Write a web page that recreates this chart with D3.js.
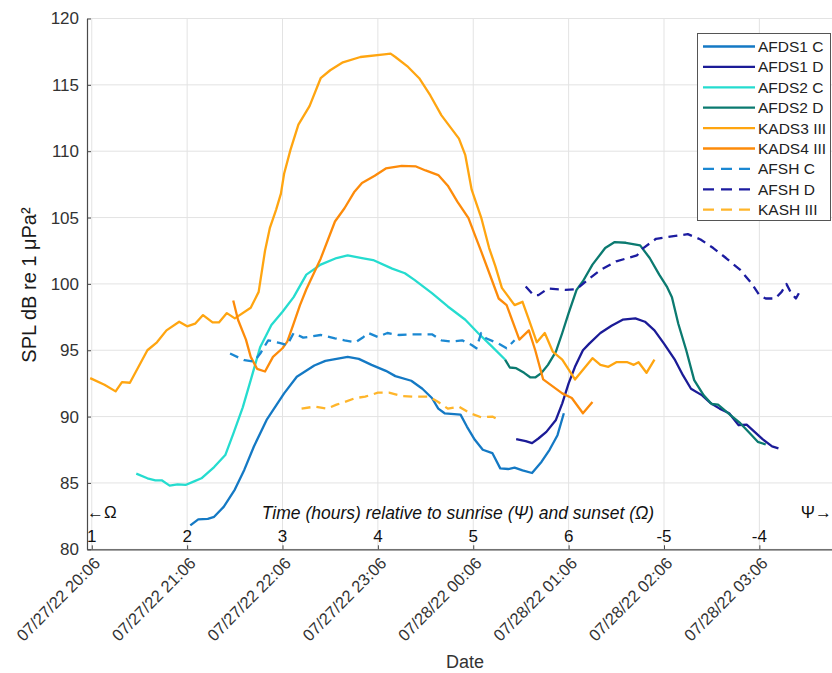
<!DOCTYPE html>
<html>
<head>
<meta charset="utf-8">
<script src="https://cdn.jsdelivr.net/npm/d3@7"></script>
<style>
  html, body { margin: 0; padding: 0; background: #fff; }
  svg { display: block; font-family: "Liberation Sans", Arial, Helvetica, sans-serif; }
</style>
</head>
<body>
<svg id="chart" width="832" height="673"></svg>
<script>
// ---- data: [minutes after 07/27/22 20:06, SPL dB] ----
const afds1C = [[62,81.8],[67,82.25],[73,82.3],[77,82.45],[83,83.2],[90,84.5],[96,86.0],[102,87.75],[110,89.75],[121,91.75],[129,93.0],[140,93.85],[147,94.2],[154,94.35],[161,94.5],[168,94.35],[176,93.9],[185,93.45],[191,93.05],[201,92.7],[208,92.1],[214,91.4],[218,90.6],[222,90.25],[232,90.15],[236,89.25],[241,88.25],[246,87.5],[252,87.25],[257,86.1],[262,86.05],[266,86.15],[271,85.95],[277,85.75],[283,86.6],[288,87.5],[293,88.6],[297,90.25]];
const afds1D = [[267,88.3],[273,88.15],[277,88.0],[281,88.35],[286,88.85],[292,89.75],[296,91.0],[300,92.5],[304,93.75],[309,95.0],[313,95.5],[320,96.3],[327,96.85],[334,97.3],[342,97.4],[348,97.15],[354,96.5],[360,95.5],[367,94.25],[372,93.1],[377,92.1],[384,91.6],[389,91.05],[395,90.6],[401,90.25],[407,89.35],[412,89.4],[417,88.85],[422,88.3],[428,87.75],[432,87.6]];
const afds2C = [[28,85.7],[35,85.35],[40,85.2],[44,85.2],[49,84.8],[54,84.9],[59,84.85],[64,85.1],[69,85.35],[77,86.2],[84,87.1],[89,88.7],[95,90.7],[100,92.75],[106,95.25],[113,96.9],[120,97.9],[127,99.0],[135,100.7],[144,101.45],[154,101.95],[161,102.15],[170,101.95],[177,101.8],[189,101.15],[197,100.8],[203,100.3],[214,99.3],[224,98.3],[235,97.3],[243,96.3],[252,95.25],[260,94.3]];
const afds2D = [[260,94.3],[263,93.7],[267,93.65],[272,93.3],[276,92.95],[279,92.95],[283,93.3],[287,93.9],[292,94.9],[296,96.3],[300,97.8],[305,99.55],[309,100.2],[315,101.45],[323,102.7],[329,103.15],[336,103.1],[345,102.9],[351,101.95],[357,100.7],[362,99.75],[365,99.0],[369,97.0],[374,95.0],[379,92.75],[385,91.6],[390,90.95],[394,90.9],[402,90.1],[408,89.5],[414,88.75],[419,88.1],[424,87.9]];
const kads3 = [[-1,92.9],[8,92.4],[15,91.9],[19,92.6],[24,92.55],[35,95.0],[41,95.6],[47,96.5],[55,97.15],[60,96.8],[65,97.0],[70,97.65],[76,97.1],[80,97.1],[85,97.8],[90,97.4],[100,98.2],[105,99.4],[109,102.5],[112,104.2],[116,105.6],[119,106.8],[121,108.3],[125,110.1],[130,112.0],[137,113.4],[144,115.5],[150,116.1],[158,116.7],[169,117.1],[184,117.3],[188,117.35],[191,117.1],[199,116.35],[206,115.5],[213,114.2],[220,112.7],[231,110.95],[235,109.7],[239,107.1],[245,105.0],[250,102.7],[254,101.3],[258,99.7],[266,98.4],[271,98.65],[275,97.3],[280,95.6],[285,96.3],[290,94.9],[296,94.3],[304,92.8],[315,94.4],[320,93.9],[325,93.75],[330,94.1],[337,94.1],[341,93.9],[344,94.1],[349,93.3],[354,94.3]];
const kads4 = [[89,98.75],[92,97.3],[97,95.8],[100,94.5],[104,93.6],[109,93.4],[114,94.5],[120,95.15],[123,95.65],[127,97.0],[131,98.4],[135,99.6],[144,101.9],[153,104.7],[159,105.7],[165,106.9],[170,107.6],[178,108.15],[185,108.7],[195,108.9],[204,108.85],[210,108.55],[218,108.2],[224,107.4],[230,106.2],[237,104.95],[241,103.7],[245,102.45],[252,100.2],[256,98.9],[261,98.4],[269,95.8],[275,96.5],[279,95.0],[284,92.8],[296,91.75],[302,91.4],[309,90.25],[315,91.1]];
const afshC = [[87,94.75],[96,94.25],[102,94.15],[106,94.75],[111,95.75],[118,95.55],[123,95.4],[127,96.3],[133,95.95],[144,96.15],[153,95.9],[159,95.75],[166,95.6],[171,96.0],[174,96.3],[180,96.0],[186,96.3],[193,96.15],[201,96.2],[214,96.2],[220,95.75],[226,95.65],[233,95.75],[239,95.4],[242,95.15],[245,96.3],[248,95.9],[256,95.5],[261,95.15],[266,95.75]];
const afshD = [[273,99.8],[278,99.15],[281,99.15],[287,99.65],[298,99.55],[305,99.6],[313,100.4],[320,101.05],[330,101.7],[343,102.15],[347,102.7],[355,103.4],[366,103.6],[375,103.75],[383,103.35],[391,102.7],[399,101.95],[408,101.05],[415,100.05],[420,99.15],[424,98.9],[430,98.9],[434,99.4],[437,100.0],[440,99.3],[443,98.9],[446,99.55]];
const kash3 = [[132,90.6],[140,90.75],[148,90.6],[154,90.9],[159,91.1],[166,91.4],[172,91.5],[180,91.8],[187,91.8],[195,91.55],[203,91.5],[212,91.5],[218,91.1],[224,90.6],[231,90.75],[238,90.25],[245,89.95],[252,90.0],[256,89.75]];

const seriesNames = ["AFDS1 C","AFDS1 D","AFDS2 C","AFDS2 D","KADS3 III","KADS4 III","AFSH C","AFSH D","KASH III"];
const seriesData  = [afds1C, afds1D, afds2C, afds2D, kads3, kads4, afshC, afshD, kash3];
const seriesColors = ["#1479c4","#1b1b97","#25dccf","#0b7a70","#ffa510","#fd8b0a","#1b88d2","#1c1ca0","#ffb52a"];
const seriesDashed = [false,false,false,false,false,false,true,true,true];

const yTicks = [80,85,90,95,100,105,110,115,120];
const hourLabels = ["1","2","3","4","5","6","-5","-4"];   // time relative to sunset / sunrise
const xTickCount = 8;  // hourly ticks from 07/27/22 20:06

// ---- layout ----
const T0 = new Date(2022, 6, 27, 20, 6);
const toDate = m => new Date(T0.getTime() + m * 60000);
const L = 87, R = 832, T = 18.5, B = 549.3;

const svg = d3.select("#chart");
const x = d3.scaleTime().domain([toDate(-3), toDate(465.7)]).range([L, R]);
const y = d3.scaleLinear().domain([80, 120]).range([B, T]);
const xTicks = d3.range(xTickCount).map(i => toDate(60 * i));

// grid
const grid = svg.append("g").attr("stroke", "#e3e3e3").attr("stroke-width", 1);
grid.selectAll("line.gy").data(yTicks).join("line")
  .attr("x1", L).attr("x2", R).attr("y1", d => y(d)).attr("y2", d => y(d));
grid.selectAll("line.gx").data(xTicks).join("line")
  .attr("x1", d => x(d)).attr("x2", d => x(d)).attr("y1", T).attr("y2", B);

// axes
const fmt = d3.timeFormat("%m/%d/%y %H:%M");
const gx = svg.append("g").attr("transform", `translate(0,${B})`)
  .call(d3.axisBottom(x).tickValues(xTicks).tickSizeInner(-4).tickSizeOuter(0).tickFormat(fmt));
gx.select(".domain").attr("stroke", "#4a4a4a").attr("stroke-width", 1.2);
gx.selectAll(".tick line").attr("stroke", "#4a4a4a");
gx.selectAll(".tick text")
  .attr("fill", "#333").attr("font-size", 16.5)
  .attr("text-anchor", "end").attr("x", 0).attr("y", 0).attr("dy", 0)
  .attr("transform", "translate(9,15) rotate(-45)");

const gy = svg.append("g").attr("transform", `translate(${L},0)`)
  .call(d3.axisLeft(y).tickValues(yTicks).tickSizeInner(-4).tickSizeOuter(0).tickPadding(8));
gy.select(".domain").attr("stroke", "#4a4a4a").attr("stroke-width", 1.2);
gy.selectAll(".tick line").attr("stroke", "#4a4a4a");
gy.selectAll(".tick text").attr("fill", "#333").attr("font-size", 17);

// axis titles
svg.append("text").attr("x", 465).attr("y", 668).attr("text-anchor", "middle")
  .attr("font-size", 18).attr("fill", "#333").text("Date");
svg.append("text").attr("transform", "translate(36,285) rotate(-90)").attr("text-anchor", "middle")
  .attr("font-size", 20).attr("fill", "#1a1a1a").text("SPL dB re 1 μPa²");

// secondary hour labels
svg.append("g").selectAll("text").data(xTicks).join("text")
  .attr("x", d => x(d)).attr("y", 542).attr("text-anchor", "middle")
  .attr("font-size", 17).attr("fill", "#111")
  .text((d, i) => hourLabels[i]);
svg.append("text").attr("x", 458).attr("y", 519).attr("text-anchor", "middle")
  .attr("font-size", 17.5).attr("font-style", "italic").attr("fill", "#111")
  .text("Time (hours) relative to sunrise (Ψ) and sunset (Ω)");
svg.append("text").attr("x", 87).attr("y", 518).attr("font-size", 17).attr("fill", "#111").text("←Ω");
svg.append("text").attr("x", 832).attr("y", 518).attr("text-anchor", "end").attr("font-size", 17).attr("fill", "#111").text("Ψ→");

// series lines
const line = d3.line().x(d => x(toDate(d[0]))).y(d => y(d[1]));
const plot = svg.append("g").attr("fill", "none").attr("stroke-linejoin", "round");
seriesData.forEach((data, i) => {
  plot.append("path").datum(data)
    .attr("d", line)
    .attr("stroke", seriesColors[i])
    .attr("stroke-width", 2.3)
    .attr("stroke-dasharray", seriesDashed[i] ? "9,6" : null);
});

// legend
const lg = svg.append("g");
lg.append("rect").attr("x", 697.5).attr("y", 33.5).attr("width", 133).attr("height", 187)
  .attr("fill", "#fff").attr("stroke", "#555").attr("stroke-width", 1);
seriesNames.forEach((name, i) => {
  const yy = 46.5 + i * 20.4;
  lg.append("line").attr("x1", 703).attr("x2", 755).attr("y1", yy).attr("y2", yy)
    .attr("stroke", seriesColors[i]).attr("stroke-width", 2.3)
    .attr("stroke-dasharray", seriesDashed[i] ? "11,7" : null);
  lg.append("text").attr("x", 758).attr("y", yy + 5.5).attr("font-size", 15.5)
    .attr("fill", "#222").text(name);
});
</script>
</body>
</html>
